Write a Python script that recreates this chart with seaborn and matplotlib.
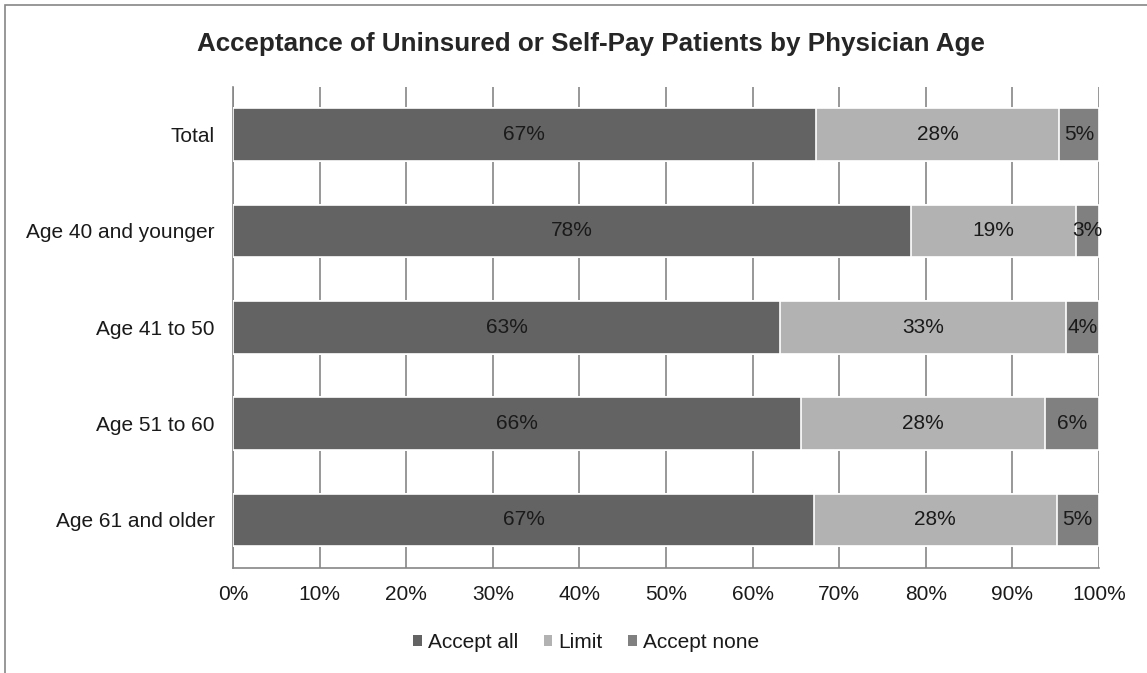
import numpy as np
import pandas as pd
import matplotlib
matplotlib.use('Agg')
import matplotlib.pyplot as plt
import seaborn as sns
from matplotlib.patches import Rectangle, Patch

# data (percent of physicians)
groups = ['Total', 'Age 40 and younger', 'Age 41 to 50', 'Age 51 to 60', 'Age 61 and older']
accept_all = [67.3, 78.3, 63.2, 65.6, 67.1]
limit = [28.1, 19.0, 33.0, 28.2, 28.0]
accept_none = [4.6, 2.7, 3.8, 6.2, 4.9]
series_names = ['Accept all', 'Limit', 'Accept none']
colors = ['#636363', '#b2b2b2', '#808080']

sns.set_style('white')
plt.rcParams['font.family'] = ['Liberation Sans', 'DejaVu Sans']

df = pd.DataFrame({'group': groups, 'Accept all': accept_all,
                   'Limit': limit, 'Accept none': accept_none})
df['c1'] = df['Accept all']
df['c2'] = df['c1'] + df['Limit']
df['c3'] = df['c2'] + df['Accept none']

fig = plt.figure(figsize=(11.47, 6.73), dpi=100)
ax = fig.add_axes([0.2031, 0.156, 0.755, 0.7154])

# stacked bars: draw cumulative totals back to front
for col, c in zip(['c3', 'c2', 'c1'], colors[::-1]):
    sns.barplot(data=df, x=col, y='group', color=c, width=0.545, orient='h',
                edgecolor='white', linewidth=1.2, saturation=1, ax=ax, zorder=3)

# value labels
for i, row in df.iterrows():
    starts = [0, row['c1'], row['c2']]
    for s, name in zip(starts, series_names):
        v = row[name]
        ax.text(s + v / 2, i, f'{round(v):.0f}%', ha='center', va='center',
                fontsize=15, color='#1a1a1a', zorder=5)

ax.set_xlim(0, 100)
ax.set_ylim(len(groups) - 0.5, -0.5)
ax.set_xticks(np.arange(0, 101, 10))
ax.set_xticklabels([f'{t}%' for t in range(0, 101, 10)], fontsize=15, color='#1a1a1a')
ax.tick_params(axis='y', labelsize=15, length=0, pad=13, labelcolor='#1a1a1a')
ax.tick_params(axis='x', length=0, pad=12)
ax.set_xlabel('')
ax.set_ylabel('')
ax.grid(axis='x', color='#868686', lw=1.2, zorder=0)
ax.set_axisbelow(True)
for s in ['top', 'right']:
    ax.spines[s].set_visible(False)
for s in ['left', 'bottom']:
    ax.spines[s].set_color('#868686')
    ax.spines[s].set_linewidth(1.2)

fig.text(0.515, 0.935, 'Acceptance of Uninsured or Self-Pay Patients by Physician Age',
         ha='center', va='center', fontsize=18.7, fontweight='bold')

handles = [Patch(facecolor=c, edgecolor='none') for c in colors]
fig.legend(handles, series_names, loc='center', bbox_to_anchor=(0.511, 0.046),
           ncol=3, frameon=False, fontsize=15, handlelength=0.42, handleheight=0.42,
           handletextpad=0.3, columnspacing=1.2, labelcolor='#1a1a1a')

# outer chart frame (only top and left edges visible)
fig.patches.append(Rectangle((0.004, -0.05), 1.2, 1.043, transform=fig.transFigure,
                             fill=False, edgecolor='#868686', lw=1.2))

fig.savefig('out.png', dpi=100, facecolor='white')
